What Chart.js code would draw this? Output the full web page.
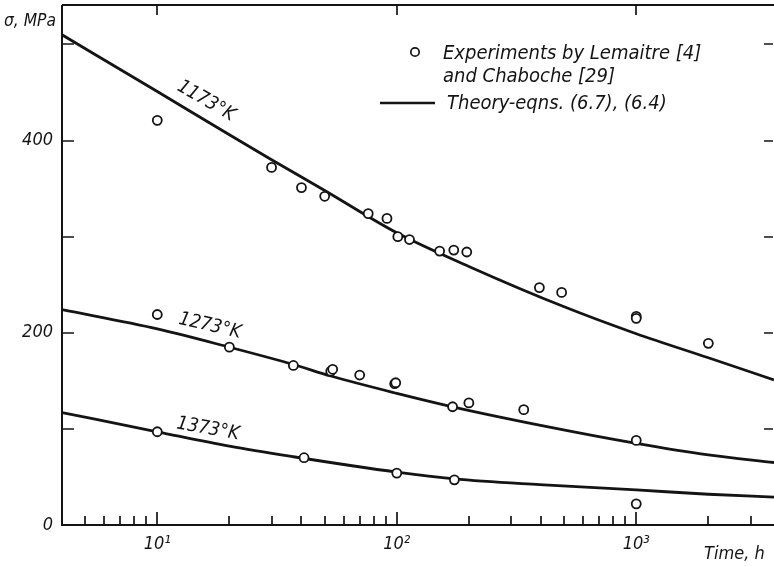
<!DOCTYPE html>
<html>
<head>
<meta charset="utf-8">
<script src="https://cdn.jsdelivr.net/npm/chart.js@4.4.1/dist/chart.umd.min.js"></script>
<style>
  body { margin: 0; background: #fff; }
  #wrap { width: 774px; height: 566px; }
</style>
</head>
<body>
<div id="wrap"><canvas id="creepChart"></canvas></div>
<script>
// Theory curves - eqns (6.7), (6.4); time in hours, stress in MPa
const curveTimes1173 = [4, 10, 20, 30, 50, 100, 200, 500, 1000, 2000, 3760];
const curveStress1173 = [510, 451, 406, 380, 348, 304, 269, 227, 199, 174, 151];
const curveTimes1273 = [4, 10, 20, 37, 53, 100, 171, 394, 1000, 2000, 3760];
const curveStress1273 = [224, 204, 185, 167, 155, 137, 123, 104, 85, 73, 65];
const curveTimes1373 = [4, 10, 20, 37, 100, 174, 394, 1000, 2000, 3760];
const curveStress1373 = [117, 97, 82, 71, 55, 48, 42, 36.5, 32, 29];

// Experiments by Lemaitre [4] and Chaboche [29]
const expTimes1173 = [10, 30, 40, 50, 76, 91, 101, 113, 151, 173, 196, 394, 488, 1000, 1000, 2000];
const expStress1173 = [421, 372, 351, 342, 324, 319, 300, 297, 285, 286, 284, 247, 242, 217, 215, 189];
const expTimes1273 = [10, 20, 37, 53, 54, 70, 98, 99, 171, 200, 339, 1000];
const expStress1273 = [219, 185, 166, 160, 162, 156, 147, 148, 123, 127, 120, 88];
const expTimes1373 = [10, 41, 100, 174, 1000];
const expStress1373 = [97, 70, 54, 47, 22];

// axes
const timeMin = 4;
const timeMax = 3760;
const stressMax = 541;
const decadeTicks = [10, 100, 1000];
const minorTicks = [5, 6, 7, 8, 9, 20, 30, 40, 50, 60, 70, 80, 90, 200, 300, 400, 500, 600, 700, 800, 900, 2000, 3000];
const stressLabels = [0, 200, 400];
const stressTicks = [100, 200, 300, 400, 500];
const curveNames = ['1173°K', '1273°K', '1373°K'];

const INK = '#141414';
const FONT = "'DejaVu Sans Condensed', 'DejaVu Sans', sans-serif";
const SUP = { 1: '¹', 2: '²', 3: '³' };

function toPoints(xs, ys) {
    return xs.map((x, i) => ({ x: x, y: ys[i] }));
}

function curveSet(label, xs, ys) {
    return {
        type: 'line',
        label: label,
        data: toPoints(xs, ys),
        borderColor: INK,
        borderWidth: 2.8,
        pointRadius: 0,
        cubicInterpolationMode: 'monotone',
        fill: false,
        order: 1
    };
}

function expSet(label, xs, ys) {
    return {
        type: 'scatter',
        label: label,
        data: toPoints(xs, ys),
        pointRadius: 4.5,
        pointBorderWidth: 1.8,
        pointBackgroundColor: '#fff',
        pointBorderColor: INK,
        order: 0
    };
}

// Axis frame, inward ticks, labels and legend drawn on top of the chart
const framePlugin = {
    id: 'frame',
    afterDraw(chart) {
        const ctx = chart.ctx;
        const a = chart.chartArea;
        const xs = chart.scales.x;
        const ys = chart.scales.y;
        ctx.save();
        ctx.strokeStyle = INK;
        ctx.fillStyle = INK;

        // frame lines
        ctx.lineWidth = 2;
        ctx.beginPath();
        ctx.moveTo(a.left, a.top);
        ctx.lineTo(a.left, a.bottom);
        ctx.lineTo(a.right, a.bottom);
        ctx.moveTo(a.left, a.top);
        ctx.lineTo(a.right, a.top);
        ctx.stroke();

        // ticks on time axis
        ctx.lineWidth = 1.7;
        ctx.beginPath();
        decadeTicks.forEach(v => {
            const px = Math.round(xs.getPixelForValue(v));
            ctx.moveTo(px, a.bottom);
            ctx.lineTo(px, a.bottom - 13);
            ctx.moveTo(px, a.top);
            ctx.lineTo(px, a.top + 10);
        });
        minorTicks.forEach(v => {
            const px = Math.round(xs.getPixelForValue(v));
            ctx.moveTo(px, a.bottom);
            ctx.lineTo(px, a.bottom - 9);
        });
        // ticks on stress axis, both sides
        stressTicks.forEach(v => {
            const py = Math.round(ys.getPixelForValue(v));
            ctx.moveTo(a.left, py);
            ctx.lineTo(a.left + 12, py);
            ctx.moveTo(a.right - 1, py);
            ctx.lineTo(a.right - 10, py);
        });
        ctx.stroke();

        // axis titles
        ctx.font = 'italic 18px ' + FONT;
        ctx.textBaseline = 'middle';
        ctx.textAlign = 'left';
        ctx.fillText('σ, MPa', 4, 21, 52);
        ctx.fillText('Time, h', 704, 554, 64);

        // curve labels
        const tags = [
            { text: curveNames[0], x: 206, y: 101, rot: 30 },
            { text: curveNames[1], x: 210, y: 326, rot: 13 },
            { text: curveNames[2], x: 208, y: 429, rot: 10 }
        ];
        ctx.font = 'italic 19px ' + FONT;
        ctx.textAlign = 'center';
        tags.forEach(t => {
            ctx.save();
            ctx.translate(t.x, t.y);
            ctx.rotate(t.rot * Math.PI / 180);
            ctx.fillText(t.text, 0, 0, 64);
            ctx.restore();
        });

        // legend
        ctx.lineWidth = 1.7;
        ctx.beginPath();
        ctx.arc(415, 52, 4.2, 0, Math.PI * 2);
        ctx.stroke();
        ctx.lineWidth = 2.6;
        ctx.beginPath();
        ctx.moveTo(380, 103);
        ctx.lineTo(435, 103);
        ctx.stroke();
        ctx.font = 'italic 20px ' + FONT;
        ctx.textAlign = 'left';
        ctx.textBaseline = 'alphabetic';
        ctx.fillText('Experiments by Lemaitre [4]', 443, 59, 262);
        ctx.fillText('and Chaboche [29]', 443, 82, 217);
        ctx.fillText('Theory-eqns. (6.7), (6.4)', 447, 109, 226);

        ctx.restore();
    }
};

const tickFont = { family: FONT, size: 18, style: 'italic' };

new Chart(document.getElementById('creepChart'), {
    data: {
        datasets: [
            expSet('1173 exp', expTimes1173, expStress1173),
            expSet('1273 exp', expTimes1273, expStress1273),
            expSet('1373 exp', expTimes1373, expStress1373),
            curveSet(curveNames[0], curveTimes1173, curveStress1173),
            curveSet(curveNames[1], curveTimes1273, curveStress1273),
            curveSet(curveNames[2], curveTimes1373, curveStress1373)
        ]
    },
    options: {
        responsive: true,
        maintainAspectRatio: false,
        animation: false,
        layout: { autoPadding: false, padding: { top: 5, left: 0, right: 0, bottom: 0 } },
        plugins: {
            legend: { display: false },
            tooltip: { enabled: false }
        },
        scales: {
            x: {
                type: 'logarithmic',
                min: timeMin,
                max: timeMax,
                grid: { display: false, drawTicks: false },
                border: { display: false },
                ticks: {
                    color: INK,
                    font: tickFont,
                    padding: 9,
                    maxRotation: 0,
                    autoSkip: false,
                    callback: function(value) {
                        return '10' + SUP[Math.round(Math.log10(value))];
                    }
                },
                afterBuildTicks: function(scale) {
                    scale.ticks = decadeTicks.map(v => ({ value: v }));
                },
                afterFit: function(scale) {
                    scale.height = 41;
                    scale.paddingLeft = 0;
                    scale.paddingRight = 0;
                }
            },
            y: {
                type: 'linear',
                min: 0,
                max: stressMax,
                grid: { display: false, drawTicks: false },
                border: { display: false },
                ticks: {
                    color: INK,
                    font: tickFont,
                    padding: 9
                },
                afterBuildTicks: function(scale) {
                    scale.ticks = stressLabels.map(v => ({ value: v }));
                },
                afterFit: function(scale) {
                    scale.width = 62;
                    scale.paddingTop = 0;
                    scale.paddingBottom = 0;
                }
            }
        }
    },
    plugins: [framePlugin]
});
</script>
</body>
</html>
